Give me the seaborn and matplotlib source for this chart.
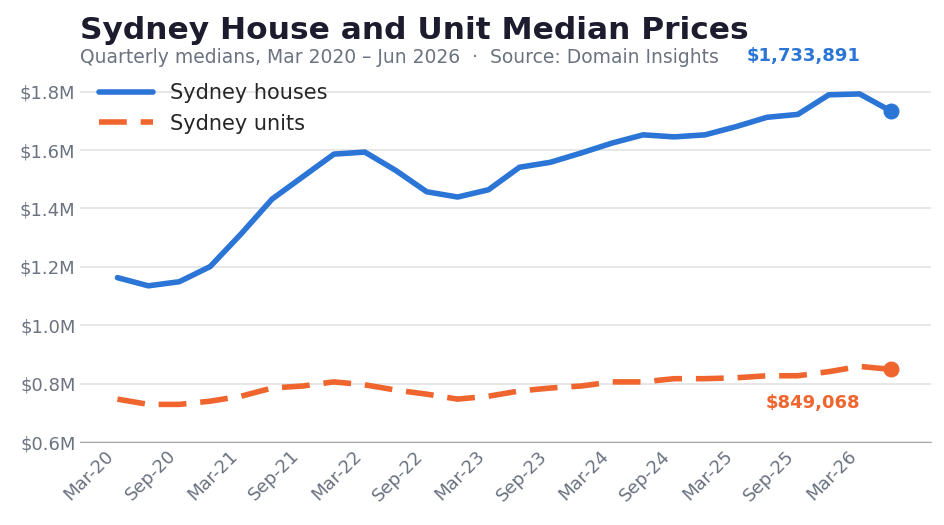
import matplotlib
matplotlib.use("Agg")
import matplotlib.pyplot as plt
import seaborn as sns
import pandas as pd
from matplotlib.ticker import FuncFormatter

sns.set_style("whitegrid")
plt.rcParams['font.family'] = ['DejaVu Sans']

quarters = pd.period_range("2020Q1", "2026Q2", freq="Q")
labels = [q.strftime("%b-%y") for q in quarters]
houses = [1.163, 1.135, 1.149, 1.201, 1.313, 1.432, 1.509, 1.586, 1.593, 1.530, 1.457, 1.439,
          1.464, 1.541, 1.558, 1.590, 1.624, 1.652, 1.645, 1.652, 1.680, 1.712, 1.722, 1.789,
          1.792, 1.733891]
units = [0.747, 0.729, 0.729, 0.740, 0.757, 0.785, 0.792, 0.806, 0.796, 0.778, 0.764, 0.747,
         0.757, 0.775, 0.785, 0.792, 0.806, 0.806, 0.817, 0.817, 0.820, 0.827, 0.827, 0.841,
         0.859, 0.849068]

blue = "#2a75d6"
orange = "#f0642d"
x = list(range(len(labels)))
df = pd.DataFrame({"x": x, "houses": houses, "units": units})

fig, ax = plt.subplots(figsize=(9.45, 5.25), dpi=100)
fig.subplots_adjust(left=0.085, right=0.985, top=0.87, bottom=0.158)
sns.lineplot(data=df, x="x", y="houses", ax=ax, color=blue, lw=4, label="Sydney houses")
sns.lineplot(data=df, x="x", y="units", ax=ax, color=orange, lw=4, ls=(0, (5, 2.5)), label="Sydney units")
ax.scatter([x[-1]], [houses[-1]], color=blue, s=110, zorder=5)
ax.scatter([x[-1]], [units[-1]], color=orange, s=110, zorder=5)
ax.annotate(f"${houses[-1]*1e6:,.0f}", (x[-1], houses[-1]), xytext=(-22, 36), textcoords="offset points",
            ha="right", color=blue, fontsize=13, fontweight="bold", annotation_clip=False)
ax.annotate(f"${units[-1]*1e6:,.0f}", (x[-1], units[-1]), xytext=(-22, -28), textcoords="offset points",
            ha="right", color=orange, fontsize=13, fontweight="bold")

ax.set_xlim(-1.2, 26.3)
ax.set_ylim(0.6, 1.88)
ax.set_yticks([0.6, 0.8, 1.0, 1.2, 1.4, 1.6, 1.8])
ax.yaxis.set_major_formatter(FuncFormatter(lambda v, p: f"${v:.1f}M"))
ax.set_xticks(x[::2])
ax.set_xticklabels(labels[::2], rotation=45, ha="right")
ax.tick_params(colors="#6b7280", labelsize=13, length=0)
ax.grid(axis="x", visible=False)
ax.grid(axis="y", color="#e3e3e3", lw=1.2)
for s in ["top", "right", "left"]:
    ax.spines[s].set_visible(False)
ax.spines["bottom"].set_color("#aaaaaa")
ax.set_xlabel("")
ax.set_ylabel("")
ax.legend(loc="upper left", bbox_to_anchor=(0.0, 1.01), frameon=False, fontsize=15, handlelength=2.6)

fig.text(0.085, 0.925, "Sydney House and Unit Median Prices", fontsize=22.5, fontweight="bold", color="#1c1c2e")
fig.text(0.085, 0.88, "Quarterly medians, Mar 2020 \u2013 Jun 2026  \u00b7  Source: Domain Insights",
         fontsize=13.5, color="#6b7280")
fig.savefig("out.png")
